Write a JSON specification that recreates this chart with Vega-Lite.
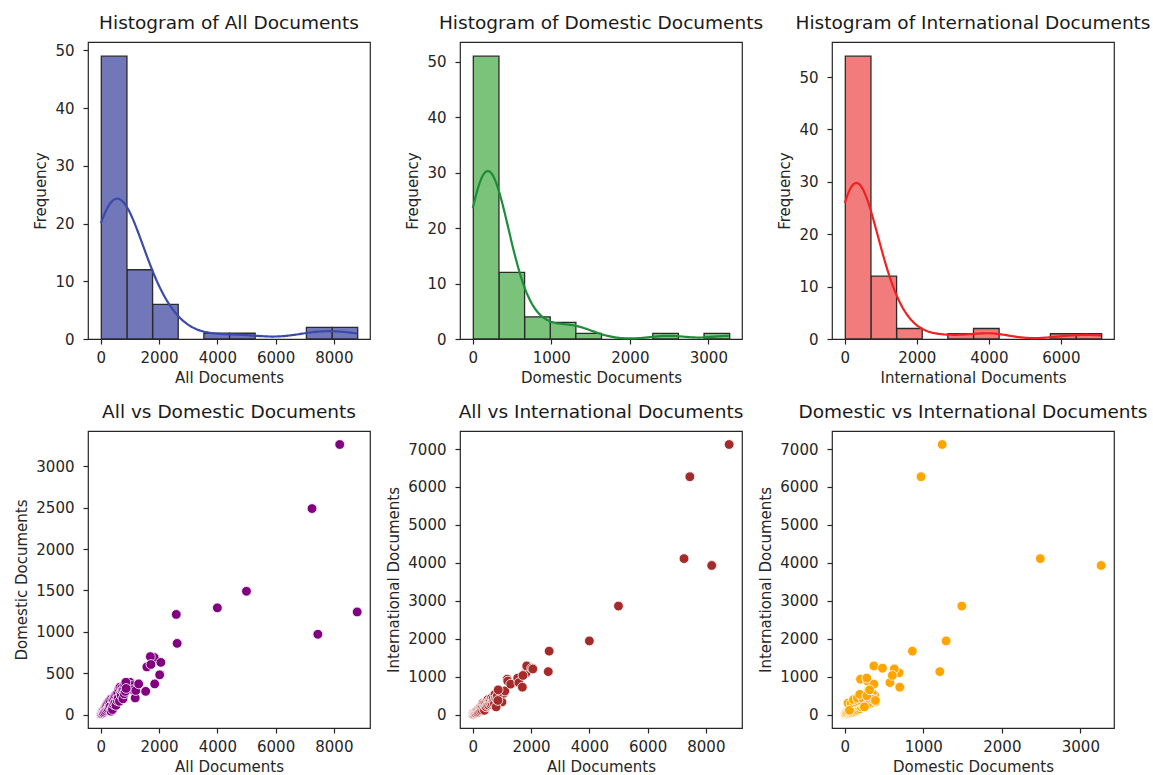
{
  "$schema": "https://vega.github.io/schema/vega-lite/v6.json",
  "padding": {"left": 14, "top": 12, "right": 0, "bottom": 0},
  "data": {
    "values": [
      {"All": 8800, "Domestic": 1240, "International": 7120},
      {"All": 8200, "Domestic": 3265, "International": 3930},
      {"All": 7450, "Domestic": 970, "International": 6270},
      {"All": 7250, "Domestic": 2490, "International": 4110},
      {"All": 5000, "Domestic": 1490, "International": 2860},
      {"All": 4000, "Domestic": 1290, "International": 1940},
      {"All": 2590, "Domestic": 1210, "International": 1130},
      {"All": 2620, "Domestic": 860, "International": 1670},
      {"All": 1830, "Domestic": 690, "International": 1100},
      {"All": 1850, "Domestic": 370, "International": 1280},
      {"All": 2020, "Domestic": 480, "International": 1220},
      {"All": 2060, "Domestic": 630, "International": 1200},
      {"All": 900, "Domestic": 380, "International": 500},
      {"All": 960, "Domestic": 310, "International": 520},
      {"All": 1000, "Domestic": 390, "International": 330},
      {"All": 1060, "Domestic": 350, "International": 560},
      {"All": 1100, "Domestic": 300, "International": 620},
      {"All": 1180, "Domestic": 200, "International": 930},
      {"All": 1200, "Domestic": 290, "International": 880},
      {"All": 1300, "Domestic": 370, "International": 800},
      {"All": 1540, "Domestic": 280, "International": 960},
      {"All": 1580, "Domestic": 575, "International": 840},
      {"All": 1700, "Domestic": 700, "International": 720},
      {"All": 1720, "Domestic": 605, "International": 1030},
      {"All": 0, "Domestic": 0, "International": 0},
      {"All": 5, "Domestic": 2, "International": 3},
      {"All": 12, "Domestic": 5, "International": 6},
      {"All": 20, "Domestic": 8, "International": 10},
      {"All": 30, "Domestic": 10, "International": 18},
      {"All": 45, "Domestic": 30, "International": 12},
      {"All": 60, "Domestic": 15, "International": 42},
      {"All": 75, "Domestic": 35, "International": 35},
      {"All": 90, "Domestic": 20, "International": 60},
      {"All": 110, "Domestic": 60, "International": 40},
      {"All": 130, "Domestic": 30, "International": 90},
      {"All": 150, "Domestic": 80, "International": 55},
      {"All": 170, "Domestic": 45, "International": 110},
      {"All": 190, "Domestic": 110, "International": 60},
      {"All": 210, "Domestic": 60, "International": 140},
      {"All": 230, "Domestic": 130, "International": 80},
      {"All": 250, "Domestic": 70, "International": 170},
      {"All": 270, "Domestic": 150, "International": 100},
      {"All": 290, "Domestic": 90, "International": 190},
      {"All": 310, "Domestic": 170, "International": 120},
      {"All": 330, "Domestic": 100, "International": 220},
      {"All": 350, "Domestic": 40, "International": 300},
      {"All": 370, "Domestic": 190, "International": 150},
      {"All": 390, "Domestic": 80, "International": 290},
      {"All": 400, "Domestic": 60, "International": 110},
      {"All": 420, "Domestic": 180, "International": 220},
      {"All": 440, "Domestic": 120, "International": 310},
      {"All": 460, "Domestic": 210, "International": 200},
      {"All": 480, "Domestic": 140, "International": 330},
      {"All": 500, "Domestic": 230, "International": 240},
      {"All": 520, "Domestic": 110, "International": 390},
      {"All": 540, "Domestic": 250, "International": 250},
      {"All": 560, "Domestic": 170, "International": 360},
      {"All": 580, "Domestic": 260, "International": 290},
      {"All": 600, "Domestic": 200, "International": 370},
      {"All": 620, "Domestic": 310, "International": 270},
      {"All": 640, "Domestic": 160, "International": 430},
      {"All": 660, "Domestic": 330, "International": 300},
      {"All": 680, "Domestic": 250, "International": 390},
      {"All": 700, "Domestic": 230, "International": 420},
      {"All": 720, "Domestic": 320, "International": 340},
      {"All": 740, "Domestic": 290, "International": 280},
      {"All": 760, "Domestic": 190, "International": 530},
      {"All": 780, "Domestic": 300, "International": 430},
      {"All": 800, "Domestic": 250, "International": 200},
      {"All": 820, "Domestic": 360, "International": 400},
      {"All": 840, "Domestic": 280, "International": 490},
      {"All": 860, "Domestic": 390, "International": 370},
      {"All": 870, "Domestic": 315, "International": 650}
    ]
  },
  "columns": 3,
  "spacing": {"row": 92, "column": 90},
  "bounds": "flush",
  "config": {
    "font": "DejaVu Sans",
    "view": {"stroke": "#262626", "strokeWidth": 1.2},
    "axis": {
      "domain": false, "grid": false, "ticks": true,
      "tickSize": 5, "tickWidth": 1.2, "tickColor": "#262626",
      "labelFont": "DejaVu Sans", "labelFontSize": 15, "labelColor": "#262626",
      "labelOverlap": false, "labelFlush": false,
      "titleFont": "DejaVu Sans", "titleFontSize": 15, "titleFontWeight": "normal", "titleColor": "#262626"
    },
    "axisX": {"labelPadding": 6, "titlePadding": 5},
    "axisY": {"labelPadding": 9, "titlePadding": 6},
    "title": {"font": "DejaVu Sans", "fontSize": 18.5, "fontWeight": "normal", "color": "#1a1a1a", "offset": 10}
  },
  "concat": [
    {
      "width": 282, "height": 297,
      "title": "Histogram of All Documents",
      "layer": [
        {
          "mark": {"type": "bar", "fill": "#7177b9", "stroke": "#2b2b2b", "strokeWidth": 1.3, "binSpacing": 0},
          "encoding": {
            "x": {"field": "All", "type": "quantitative", "bin": {"extent": [0, 8800], "step": 880, "nice": false},
                  "scale": {"domain": [-440, 9240], "nice": false, "zero": false},
                  "axis": {"values": [0, 2000, 4000, 6000, 8000], "format": "d", "title": "All Documents"}},
            "y": {"aggregate": "count", "type": "quantitative",
                  "scale": {"domain": [0, 51.45], "nice": false},
                  "axis": {"values": [0, 10, 20, 30, 40, 50], "format": "d", "title": "Frequency"}}
          }
        },
        {
          "transform": [{"density": "All", "bandwidth": 784, "extent": [0, 8800], "counts": true, "steps": 200}],
          "mark": {"type": "line", "stroke": "#3b4ba9", "strokeWidth": 2.2},
          "encoding": {
            "x": {"field": "value", "type": "quantitative",
                  "scale": {"domain": [-440, 9240], "nice": false, "zero": false},
                  "axis": {"values": [0, 2000, 4000, 6000, 8000], "format": "d", "title": "All Documents"}},
            "y": {"field": "density", "type": "quantitative",
                  "scale": {"domain": [0, 0.0584659], "nice": false}, "axis": null}
          }
        }
      ],
      "resolve": {"scale": {"y": "independent"}}
    },
    {
      "width": 282, "height": 297,
      "title": "Histogram of Domestic Documents",
      "layer": [
        {
          "mark": {"type": "bar", "fill": "#7bc27b", "stroke": "#2b2b2b", "strokeWidth": 1.3, "binSpacing": 0},
          "encoding": {
            "x": {"field": "Domestic", "type": "quantitative", "bin": {"extent": [0, 3265], "step": 326.5, "nice": false},
                  "scale": {"domain": [-163.25, 3428.25], "nice": false, "zero": false},
                  "axis": {"values": [0, 1000, 2000, 3000], "format": "d", "title": "Domestic Documents"}},
            "y": {"aggregate": "count", "type": "quantitative",
                  "scale": {"domain": [0, 53.55], "nice": false},
                  "axis": {"values": [0, 10, 20, 30, 40, 50], "format": "d", "title": "Frequency"}}
          }
        },
        {
          "transform": [{"density": "Domestic", "bandwidth": 226, "extent": [0, 3265], "counts": true, "steps": 200}],
          "mark": {"type": "line", "stroke": "#1e8c3a", "strokeWidth": 2.2},
          "encoding": {
            "x": {"field": "value", "type": "quantitative",
                  "scale": {"domain": [-163.25, 3428.25], "nice": false, "zero": false},
                  "axis": {"values": [0, 1000, 2000, 3000], "format": "d", "title": "Domestic Documents"}},
            "y": {"field": "density", "type": "quantitative",
                  "scale": {"domain": [0, 0.164012], "nice": false}, "axis": null}
          }
        }
      ],
      "resolve": {"scale": {"y": "independent"}}
    },
    {
      "width": 282, "height": 297,
      "title": "Histogram of International Documents",
      "layer": [
        {
          "mark": {"type": "bar", "fill": "#f27c7c", "stroke": "#2b2b2b", "strokeWidth": 1.3, "binSpacing": 0},
          "encoding": {
            "x": {"field": "International", "type": "quantitative", "bin": {"extent": [0, 7120], "step": 712, "nice": false},
                  "scale": {"domain": [-356, 7476], "nice": false, "zero": false},
                  "axis": {"values": [0, 2000, 4000, 6000], "format": "d", "title": "International Documents"}},
            "y": {"aggregate": "count", "type": "quantitative",
                  "scale": {"domain": [0, 56.7], "nice": false},
                  "axis": {"values": [0, 10, 20, 30, 40, 50], "format": "d", "title": "Frequency"}}
          }
        },
        {
          "transform": [{"density": "International", "bandwidth": 537, "extent": [0, 7120], "counts": true, "steps": 200}],
          "mark": {"type": "line", "stroke": "#ee2222", "strokeWidth": 2.2},
          "encoding": {
            "x": {"field": "value", "type": "quantitative",
                  "scale": {"domain": [-356, 7476], "nice": false, "zero": false},
                  "axis": {"values": [0, 2000, 4000, 6000], "format": "d", "title": "International Documents"}},
            "y": {"field": "density", "type": "quantitative",
                  "scale": {"domain": [0, 0.0796348], "nice": false}, "axis": null}
          }
        }
      ],
      "resolve": {"scale": {"y": "independent"}}
    },
    {
      "width": 282, "height": 297,
      "title": "All vs Domestic Documents",
      "mark": {"type": "circle", "size": 95, "color": "#800080", "opacity": 1, "stroke": "#ffffff", "strokeWidth": 0.8},
      "encoding": {
        "x": {"field": "All", "type": "quantitative",
              "scale": {"domain": [-440, 9240], "nice": false, "zero": false},
              "axis": {"values": [0, 2000, 4000, 6000, 8000], "format": "d", "title": "All Documents"}},
        "y": {"field": "Domestic", "type": "quantitative",
              "scale": {"domain": [-163.25, 3428.25], "nice": false, "zero": false},
              "axis": {"values": [0, 500, 1000, 1500, 2000, 2500, 3000], "format": "d", "title": "Domestic Documents"}}
      }
    },
    {
      "width": 282, "height": 297,
      "title": "All vs International Documents",
      "mark": {"type": "circle", "size": 95, "color": "#a52a2a", "opacity": 1, "stroke": "#ffffff", "strokeWidth": 0.8},
      "encoding": {
        "x": {"field": "All", "type": "quantitative",
              "scale": {"domain": [-440, 9240], "nice": false, "zero": false},
              "axis": {"values": [0, 2000, 4000, 6000, 8000], "format": "d", "title": "All Documents"}},
        "y": {"field": "International", "type": "quantitative",
              "scale": {"domain": [-356, 7476], "nice": false, "zero": false},
              "axis": {"values": [0, 1000, 2000, 3000, 4000, 5000, 6000, 7000], "format": "d", "title": "International Documents"}}
      }
    },
    {
      "width": 282, "height": 297,
      "title": "Domestic vs International Documents",
      "mark": {"type": "circle", "size": 95, "color": "#ffa500", "opacity": 1, "stroke": "#ffffff", "strokeWidth": 0.8},
      "encoding": {
        "x": {"field": "Domestic", "type": "quantitative",
              "scale": {"domain": [-163.25, 3428.25], "nice": false, "zero": false},
              "axis": {"values": [0, 1000, 2000, 3000], "format": "d", "title": "Domestic Documents"}},
        "y": {"field": "International", "type": "quantitative",
              "scale": {"domain": [-356, 7476], "nice": false, "zero": false},
              "axis": {"values": [0, 1000, 2000, 3000, 4000, 5000, 6000, 7000], "format": "d", "title": "International Documents"}}
      }
    }
  ]
}
